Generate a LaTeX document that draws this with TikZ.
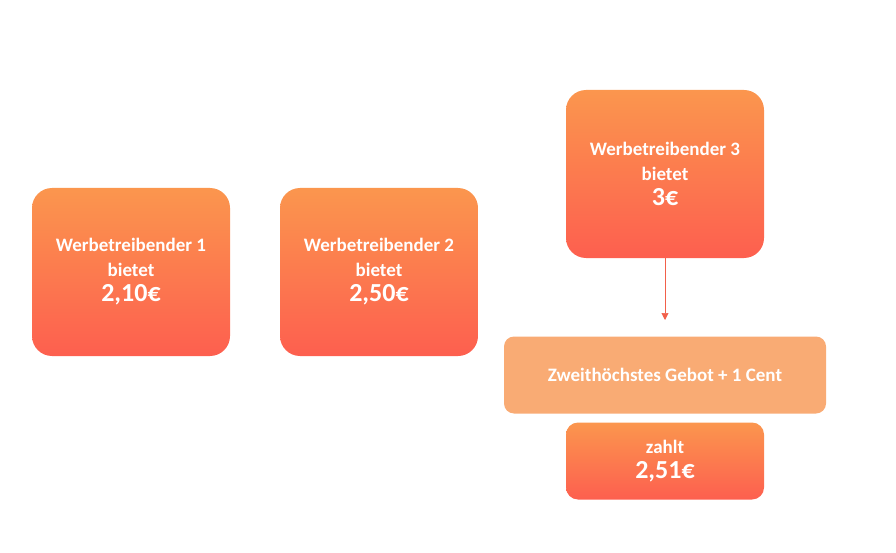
\documentclass[tikz,border=0pt]{standalone}
\usepackage{fontspec}
\setmainfont{Carlito}
\usetikzlibrary{positioning}
\usetikzlibrary{arrows.meta}
\definecolor{bidtop}{HTML}{FB964E}
\definecolor{bidbot}{HTML}{FD5F4F}
\definecolor{rulefill}{HTML}{F9AB74}
\definecolor{arrowcol}{HTML}{F2604A}
\newcommand{\amount}[1]{{\fontsize{26}{30}\selectfont #1}}
\begin{document}
\begin{tikzpicture}[
        x=1pt, y=-1pt,
        bid/.style = {
            rounded corners = 20pt,
            top color = bidtop,
            bottom color = bidbot,
            text = white,
            align = center,
            font = \bfseries\fontsize{19}{25}\selectfont,
            minimum width = 198pt,
            minimum height = #1,
            inner sep = 0pt
        },
        bid/.default = 168pt
        ]
%
        \useasboundingbox (0,0) rectangle (896,553);
%
        \node[bid] (bidder1) at (131,272) {Werbetreibender 1\\bietet\\\amount{2,10€}};
        \node[bid] (bidder2) at (379,272) {Werbetreibender 2\\bietet\\\amount{2,50€}};
        \node[bid] (bidder3) at (665,174) {Werbetreibender 3\\bietet\\\amount{3€}};
%
        \node[rounded corners = 10pt, fill = rulefill, text = white,
              font = \bfseries\fontsize{19}{25}\selectfont,
              minimum width = 322pt, minimum height = 77pt] (rule) at (665,375) {Zweithöchstes Gebot + 1 Cent};
%
        \node[bid = 77pt, rounded corners = 12pt] (pays) at (665,461) {zahlt\\\amount{2,51€}};
%
        \coordinate (arrowend) at (665,320);
        \draw[-{Triangle[length=7pt, width=7pt]}, arrowcol, line width = 0.6pt] (bidder3) -- (arrowend);
%
    \end{tikzpicture}
\end{document}
